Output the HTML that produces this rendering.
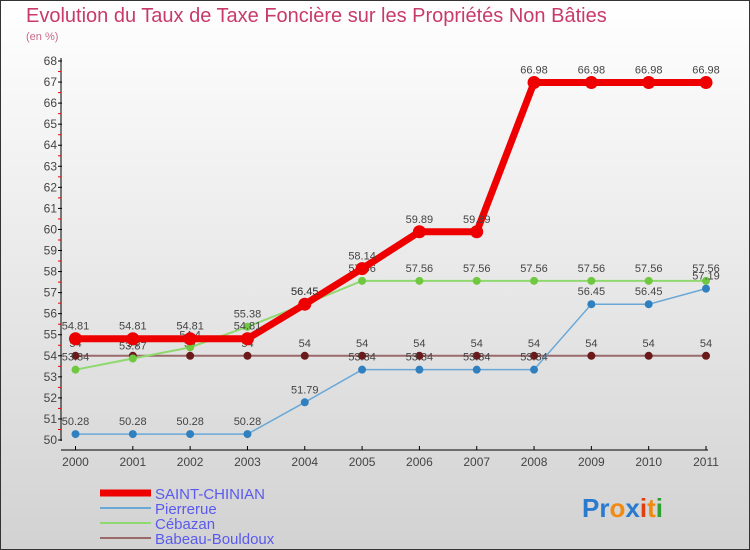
<!DOCTYPE html>
<html><head><meta charset="utf-8"><style>
body{margin:0;width:750px;height:550px;overflow:hidden;font-family:"Liberation Sans",sans-serif}
svg{display:block}
</style></head><body>
<svg width="750" height="550">
<defs><linearGradient id="bg" x1="0" y1="0" x2="0" y2="1"><stop offset="0" stop-color="#ffffff"/><stop offset="1" stop-color="#d2d2d2"/></linearGradient></defs>
<rect x="0.5" y="0.5" width="749" height="549" fill="url(#bg)" stroke="#333"/>
<text x="26" y="22" font-size="20" fill="#c83a6a">Evolution du Taux de Taxe Foncière sur les Propriétés Non Bâties</text>
<text x="26" y="40" font-size="11" fill="#c86a8a">(en %)</text>
<g id="axes"></g><g id="series"></g><g id="legend"></g>
<text x="582" y="517" font-size="26" font-weight="bold"><tspan fill="#2a7ad0">Pr</tspan><tspan fill="#f08a10">o</tspan><tspan fill="#2a7ad0">x</tspan><tspan fill="#e04010">i</tspan><tspan fill="#f08a10">t</tspan><tspan fill="#30a030">i</tspan></text>
</svg>
<script>
const years=["2000","2001","2002","2003","2004","2005","2006","2007","2008","2009","2010","2011"];
const saintChinian=[54.81,54.81,54.81,54.81,56.45,58.14,59.89,59.89,66.98,66.98,66.98,66.98];
const pierrerue=[50.28,50.28,50.28,50.28,51.79,53.34,53.34,53.34,53.34,56.45,56.45,57.19];
const cebazan=[53.34,53.87,54.4,55.38,56.45,57.56,57.56,57.56,57.56,57.56,57.56,57.56];
const babeau=[54,54,54,54,54,54,54,54,54,54,54,54];
const yTicks=[50,51,52,53,54,55,56,57,58,59,60,61,62,63,64,65,66,67,68];
const NS="http://www.w3.org/2000/svg";
const xs=i=>75.5+i*(706-75.5)/(years.length-1);
const ys=v=>440-(v-50)*(440-61)/18;
function mk(p,tag,a){const e=document.createElementNS(NS,tag);for(const k in a)e.setAttribute(k,a[k]);p.appendChild(e);return e;}
const ax=document.getElementById('axes');
let e=mk(ax,'line',{x1:61,y1:58,x2:61,y2:441,stroke:'#000'});


e=mk(ax,'line',{x1:61,y1:450,x2:708,y2:450,stroke:'#000'});


yTicks.forEach(v=>{const y=ys(v);
mk(ax,'line',{x1:58,y1:y,x2:62,y2:y,stroke:'#000'});
if(v<68)mk(ax,'line',{x1:58,y1:y-10.5,x2:61,y2:y-10.5,stroke:'#e00'});
const t=mk(ax,'text',{x:57,y:y+4,'font-size':12,'text-anchor':'end',fill:'#444'});t.textContent=v;

});
years.forEach((yr,i)=>{const x=xs(i);
mk(ax,'line',{x1:x,y1:446,x2:x,y2:450,stroke:'#000'});
const t=mk(ax,'text',{x:x,y:466,'font-size':12,'text-anchor':'middle',fill:'#444'});t.textContent=yr;

});
const S=document.getElementById('series');
function draw(data,color,dot,w,r,name){
const g=mk(S,'g',{});


mk(g,'polyline',{points:data.map((v,i)=>xs(i)+','+ys(v)).join(' '),fill:'none',stroke:color,'stroke-width':w});
data.forEach((v,i)=>{const c=mk(g,'circle',{cx:xs(i),cy:ys(v),r:r,fill:dot});


const t=mk(g,'text',{x:xs(i),y:ys(v)-9,'font-size':11,'text-anchor':'middle',fill:'#444'});t.textContent=v;

});}
draw(babeau,'#9a6a6a','#6a1a1a',2,4,'babeau-bouldoux-series');
draw(cebazan,'#90d870','#70c840',2,4,'cebazan-series');
draw(pierrerue,'#6aa8d8','#3080c0',1.5,4,'pierrerue-series');
draw(saintChinian,'#ee0000','#ee0000',7,6.5,'saint-chinian-series');
const L=document.getElementById('legend');
[["SAINT-CHINIAN","#ee0000",7],["Pierrerue","#6aa8d8",2],["Cébazan","#90d870",2],["Babeau-Bouldoux","#9a6a6a",2]].forEach((d,i)=>{
const y=493+i*15;const g=mk(L,'g',{});


mk(g,'line',{x1:100,y1:y,x2:151,y2:y,stroke:d[1],'stroke-width':d[2]});
const t=mk(g,'text',{x:155,y:y+6,'font-size':15,fill:'#5a5aee'});t.textContent=d[0];});
</script>
</body></html>
